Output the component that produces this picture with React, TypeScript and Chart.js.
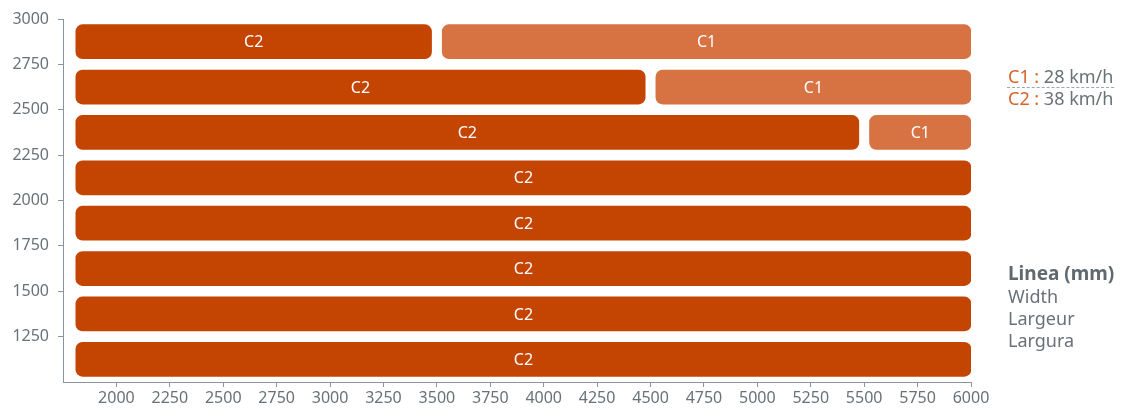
import React, { useEffect, useRef } from "react";
import { Chart, registerables } from "chart.js";

Chart.register(...registerables);

const rowValues = [2875, 2625, 2375, 2125, 1875, 1625, 1375, 1125];
const c2Start = [1810, 1810, 1810, 1810, 1810, 1810, 1810, 1810];
const c2End = [3475, 4475, 5475, 6000, 6000, 6000, 6000, 6000];
const c1Rows = [2875, 2625, 2375];
const c1Start = [3525, 4525, 5525];
const c1End = [6000, 6000, 6000];
const xTicksMin = 1750;
const xTicksMax = 6000;
const yTicksMin = 1000;
const yTicksMax = 3000;
const tickStep = 250;

const C2_COLOR = "#c44402";
const C1_COLOR = "#d77242";
const TEXT_GRAY = "#687278";
const AXIS_GRAY = "#8c9499";
const FONT = '"Noto Sans", sans-serif';

const barLabels = {
  id: "barLabels",
  afterDatasetsDraw(chart: any) {
    const ctx = chart.ctx;
    ctx.save();
    ctx.fillStyle = "#ffffff";
    ctx.font = `16px ${FONT}`;
    ctx.textAlign = "center";
    ctx.textBaseline = "middle";
    chart.data.datasets.forEach((ds: any, i: number) => {
      const meta = chart.getDatasetMeta(i);
      meta.data.forEach((el: any) => {
        const p = el.getProps(["x", "y", "base"], true);
        ctx.fillText(ds.label, (p.x + p.base) / 2, p.y + 1);
      });
    });
    ctx.restore();
  },
};

export default function App() {
  const canvasRef = useRef<HTMLCanvasElement>(null);

  useEffect(() => {
    document.body.style.margin = "0";
    document.body.style.overflow = "hidden";
    const chart = new Chart(canvasRef.current!, {
      type: "bar",
      data: {
        datasets: [
          {
            label: "C2",
            data: rowValues.map((y, i) => ({ y, x: [c2Start[i], c2End[i]] })) as any,
            backgroundColor: C2_COLOR,
            borderRadius: 7,
            borderSkipped: false,
            barThickness: 34,
            grouped: false,
          },
          {
            label: "C1",
            data: c1Rows.map((y, i) => ({ y, x: [c1Start[i], c1End[i]] })) as any,
            backgroundColor: C1_COLOR,
            borderRadius: 7,
            borderSkipped: false,
            barThickness: 34,
            grouped: false,
          },
        ],
      },
      options: {
        indexAxis: "y",
        animation: false,
        responsive: false,
        maintainAspectRatio: false,
        layout: { padding: { top: 19, right: 151, bottom: 0, left: 0 } },
        plugins: { legend: { display: false }, tooltip: { enabled: false } },
        scales: {
          x: {
            type: "linear",
            min: xTicksMin,
            max: xTicksMax,
            offset: false,
            ticks: {
              stepSize: tickStep,
              color: TEXT_GRAY,
              font: { family: FONT, size: 16 },
              padding: 2,
              maxRotation: 0,
              autoSkip: false,
              callback: (v: any) => String(v),
            },
            grid: { drawOnChartArea: false, drawTicks: true, tickLength: 5, color: AXIS_GRAY },
            border: { color: AXIS_GRAY, width: 1 },
            afterBuildTicks: (s: any) => {
              s.ticks = s.ticks.filter((t: any) => t.value >= 2000);
            },
            afterFit: (s: any) => {
              s.height = 26;
            },
          },
          y: {
            type: "linear",
            min: yTicksMin,
            max: yTicksMax,
            offset: false,
            ticks: {
              stepSize: tickStep,
              color: TEXT_GRAY,
              font: { family: FONT, size: 16 },
              padding: 9,
              autoSkip: false,
              callback: (v: any) => String(v),
            },
            grid: { drawOnChartArea: false, drawTicks: true, tickLength: 5, color: AXIS_GRAY, offset: false },
            border: { color: AXIS_GRAY, width: 1 },
            afterBuildTicks: (s: any) => {
              s.ticks = s.ticks.filter((t: any) => t.value >= 1250);
            },
            afterFit: (s: any) => {
              s.width = 63;
            },
          },
        },
      },
      plugins: [barLabels],
    });
    return () => chart.destroy();
  }, []);

  const txt: React.CSSProperties = {
    position: "absolute",
    left: 1008,
    fontFamily: FONT,
    color: TEXT_GRAY,
    fontSize: 18,
    lineHeight: "20px",
    whiteSpace: "nowrap",
  };

  return (
    <div style={{ position: "relative", width: 1122, height: 408 }}>
      <canvas ref={canvasRef} width={1122} height={408} style={{ display: "block" }} />
      <div style={{ ...txt, top: 66 }}>
        <span style={{ color: "#d9622b" }}>C1 : </span>28 km/h
      </div>
      <div
        style={{
          position: "absolute",
          left: 1007,
          top: 87,
          width: 107,
          borderTop: "1px dashed #a0a7ab",
        }}
      />
      <div style={{ ...txt, top: 88 }}>
        <span style={{ color: "#d9622b" }}>C2 : </span>38 km/h
      </div>
      <div style={{ ...txt, top: 263, fontWeight: 700, fontSize: 19, color: "#5f696f" }}>Linea (mm)</div>
      <div style={{ ...txt, top: 286 }}>Width</div>
      <div style={{ ...txt, top: 308 }}>Largeur</div>
      <div style={{ ...txt, top: 330 }}>Largura</div>
    </div>
  );
}
